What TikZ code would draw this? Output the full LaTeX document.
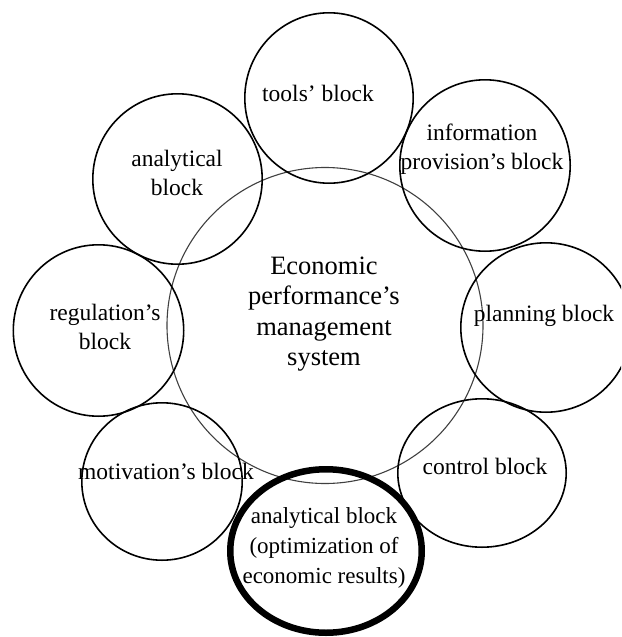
\documentclass[tikz,border=0pt]{standalone}
\usepackage{fontspec}
\setmainfont{Liberation Serif}
\usetikzlibrary{shapes.geometric}
\begin{document}
\begin{tikzpicture}[x=1pt,y=-1pt,
  blk/.style={draw=black, line width=1.6pt, ellipse, inner sep=0pt},
  hub/.style={draw=black!75, line width=1.1pt, circle, inner sep=0pt},
  keyblk/.style={draw=black, line width=6.5pt, ellipse, inner sep=0pt},
  lbl/.style={align=center, inner sep=0pt, font=\fontsize{23.5}{28.5}\selectfont},
  hublbl/.style={align=center, inner sep=0pt, font=\fontsize{26.5}{30.5}\selectfont}]
\useasboundingbox (0,0) rectangle (621,637);
\begin{scope}
\clip (0,0) rectangle (621,637);
% central circle
\node[hub, minimum size=316pt] (hubc) at (325,325.5) {};
% outer circles
\node[blk, minimum width=168.4pt, minimum height=170.4pt] (tools) at (329,98) {};
\node[blk, minimum width=170.4pt, minimum height=171.4pt] (info) at (485,165.5) {};
\node[blk, minimum width=169.4pt, minimum height=170.4pt] (anl) at (177.5,179) {};
\node[blk, minimum width=170.4pt, minimum height=171.4pt] (reg) at (98.5,330.5) {};
\node[blk, minimum width=170.4pt, minimum height=169.4pt] (plan) at (546,327.5) {};
\node[blk, minimum width=168.4pt, minimum height=148.4pt] (ctrl) at (482,473) {};
\node[blk, minimum width=160.4pt, minimum height=157.4pt] (mot) at (162,481.5) {};
\node[keyblk, minimum width=191.5pt, minimum height=163.5pt] (opt) at (326,551) {};
\end{scope}
% labels
\node[hublbl] (hubT) at (324,314) {Economic\\performance’s\\management\\system};
\node[lbl] (toolsT) at (318,93) {tools’ block};
\node[lbl] (infoT) at (482,149) {information\\provision’s block};
\node[lbl] (anlT) at (177,173) {analytical\\block};
\node[lbl] (regT) at (105,327) {regulation’s\\block};
\node[lbl] (planT) at (544,316) {planning block};
\node[lbl] (ctrlT) at (485,466) {control block};
\node[lbl] (motT) at (166,471) {motivation’s block};
\node[lbl, font=\fontsize{23}{30}\selectfont] (optT) at (324,548) {analytical block\\(optimization of\\economic results)};
\end{tikzpicture}
\end{document}
